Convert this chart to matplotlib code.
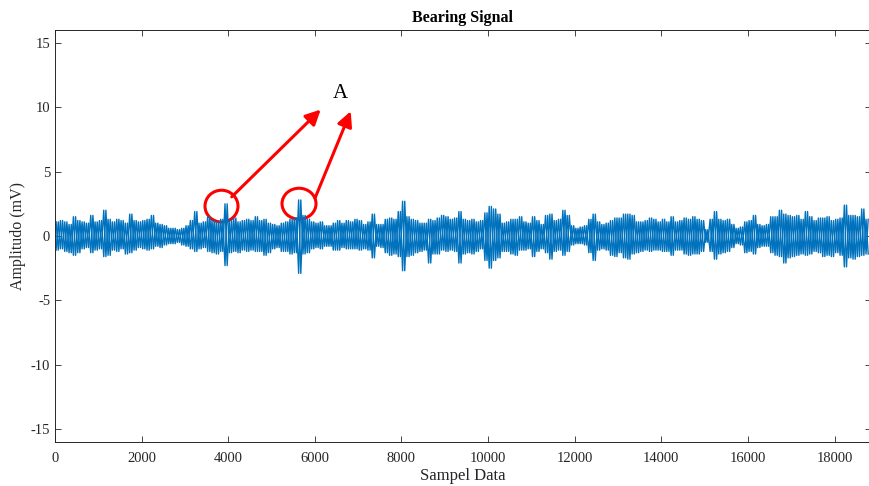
import matplotlib
matplotlib.use("Agg")
import matplotlib.pyplot as plt
import numpy as np
from matplotlib.patches import Ellipse

# ---- data: per-100-sample window peak (hi) and trough (lo) of the signal ----
window_size = 100
sig_hi = [
    1.1, 1.2, 1.1, 0.9, 1.5, 1.2, 1.1, 1.0, 1.6, 1.1,
    1.2, 2.0, 1.3, 1.1, 1.3, 1.2, 1.0, 1.7, 1.2, 1.1,
    1.2, 1.3, 1.6, 1.0, 0.9, 0.8, 0.6, 0.6, 0.5, 0.6,
    0.8, 1.2, 1.9, 1.0, 1.1, 1.5, 1.2, 1.1, 1.3, 2.5,
    1.2, 1.4, 1.1, 1.2, 1.3, 1.2, 1.5, 1.2, 1.3, 1.0,
    0.9, 0.8, 1.0, 1.1, 1.3, 1.4, 2.8, 1.6, 1.3, 1.1,
    1.0, 1.1, 0.8, 0.8, 1.0, 1.2, 1.0, 1.2, 1.1, 1.3,
    1.2, 0.9, 1.1, 1.7, 0.9, 0.9, 1.3, 1.4, 1.3, 1.9,
    2.7, 1.5, 1.3, 1.2, 1.0, 1.0, 1.3, 1.2, 1.4, 1.6,
    1.5, 1.3, 1.4, 1.9, 1.3, 1.2, 1.3, 1.1, 1.2, 1.8,
    2.3, 2.1, 1.7, 1.0, 1.1, 1.3, 1.3, 1.5, 1.1, 1.0,
    1.5, 1.2, 0.9, 1.6, 1.7, 1.2, 1.3, 2.0, 1.6, 0.8,
    0.6, 0.7, 0.8, 1.3, 1.7, 1.1, 0.9, 1.0, 1.2, 1.4,
    1.4, 1.7, 1.7, 1.6, 1.1, 1.1, 1.2, 1.4, 1.3, 1.1,
    1.3, 1.1, 1.5, 1.1, 1.2, 1.4, 1.3, 1.5, 1.3, 1.2,
    0.5, 1.3, 1.9, 1.3, 1.2, 1.3, 0.9, 0.6, 0.7, 1.1,
    1.2, 1.6, 0.9, 0.8, 0.9, 1.5, 1.5, 2.0, 1.7, 1.6,
    1.5, 1.6, 1.3, 1.9, 1.5, 1.2, 1.4, 1.4, 1.5, 1.2,
    1.3, 1.4, 2.4, 1.6, 1.6, 1.5, 2.1, 1.3,
]
sig_lo = [
    -1.1, -1.0, -1.2, -1.3, -1.5, -1.3, -1.0, -0.9, -1.3, -1.1,
    -1.0, -1.6, -1.5, -1.1, -1.2, -1.0, -1.4, -1.3, -1.1, -0.9,
    -1.0, -1.1, -1.0, -0.8, -0.9, -0.7, -0.6, -0.6, -0.5, -0.7,
    -0.8, -1.0, -1.2, -1.0, -0.9, -1.2, -1.3, -1.4, -1.2, -2.3,
    -1.3, -1.2, -1.3, -1.1, -1.2, -1.1, -1.2, -1.2, -1.5, -1.3,
    -1.0, -0.9, -1.2, -1.2, -1.4, -1.3, -2.9, -1.4, -1.3, -1.0,
    -0.9, -1.0, -0.8, -0.8, -1.1, -1.1, -0.9, -1.0, -1.0, -1.0,
    -1.1, -1.0, -1.1, -1.7, -0.8, -0.9, -1.3, -1.5, -1.4, -1.6,
    -2.7, -1.6, -1.5, -1.3, -1.2, -1.1, -2.1, -1.4, -1.4, -1.1,
    -1.2, -1.1, -1.2, -2.1, -1.4, -1.3, -1.4, -1.2, -1.0, -1.9,
    -2.5, -1.9, -1.7, -1.2, -1.2, -1.4, -1.5, -1.1, -1.1, -1.0,
    -1.6, -1.2, -1.0, -1.3, -1.8, -1.2, -1.1, -1.5, -1.2, -0.7,
    -0.6, -0.6, -0.7, -1.3, -1.9, -1.1, -1.0, -1.1, -1.5, -1.6,
    -1.3, -1.7, -1.8, -1.4, -1.3, -1.2, -1.1, -1.2, -1.1, -1.1,
    -1.2, -1.2, -1.5, -1.1, -1.1, -1.4, -1.5, -1.4, -1.4, -1.2,
    -0.5, -1.2, -1.8, -1.4, -1.3, -1.2, -0.9, -0.6, -0.7, -1.3,
    -1.2, -1.4, -0.9, -0.8, -0.8, -1.3, -1.5, -1.6, -2.1, -1.7,
    -1.6, -1.5, -1.4, -1.5, -1.4, -1.2, -1.3, -1.6, -1.5, -1.6,
    -1.3, -1.5, -2.4, -1.7, -1.8, -1.6, -1.5, -1.4,
]
x_ticks = [0, 2000, 4000, 6000, 8000, 10000, 12000, 14000, 16000, 18000]
y_ticks = [-15, -10, -5, 0, 5, 10, 15]

# ---- build two interleaved traces from window peaks/troughs ----
n = len(sig_hi)
xa, ya, xb, yb = [], [], [], []
for i in range(n):
    xa += [i * window_size + 25, i * window_size + 75]
    ya += [sig_hi[i], sig_lo[i]]
    xb += [i * window_size + 25, i * window_size + 75]
    yb += [sig_lo[i], sig_hi[i]]

plt.rcParams['font.family'] = ['Liberation Serif', 'DejaVu Serif']
plt.rcParams['axes.unicode_minus'] = False

W, H = 869, 486
fig = plt.figure(figsize=(W / 100, H / 100), dpi=100)
ax = fig.add_axes([55 / W, 1 - 442 / H, (871 - 55) / W, (442 - 30) / H])

blue = (0, 0.447, 0.741)
ax.plot(xa, ya, color=blue, lw=1.0)
ax.plot(xb, yb, color=blue, lw=1.0)

ax.set_xlim(0, 18840)
ax.set_ylim(-16, 16)
ax.set_xticks(x_ticks)
ax.set_yticks(y_ticks)
ax.tick_params(direction='in', top=True, right=True, length=4, width=0.6,
               colors='#262626', labelsize=10.5, labelcolor='#262626')
ax.tick_params(axis='x', pad=7)
for s in ax.spines.values():
    s.set_color('#262626')
    s.set_linewidth(0.7)

ax.set_title('Bearing Signal', fontsize=11.5, fontweight='bold', pad=6)
ax.set_xlabel('Sampel Data', fontsize=12, labelpad=2, color='#262626')
ax.set_ylabel('Amplitudo (mV)', fontsize=11.5, labelpad=3, color='#262626')

# ---- annotations ----
red = '#ff0000'
ax.add_patch(Ellipse((3844, 2.32), 762, 2.47, fill=False, ec=red, lw=2.2))
ax.add_patch(Ellipse((5634, 2.51), 785, 2.40, fill=False, ec=red, lw=2.2))
arrow_kw = dict(arrowstyle='-|>,head_length=0.9,head_width=0.45', color=red, lw=2.2,
                shrinkA=0, shrinkB=0)
ax.annotate('', xy=(6135, 9.82), xytext=(4080, 3.04), arrowprops=arrow_kw)
ax.annotate('', xy=(6828, 9.69), xytext=(6003, 2.94), arrowprops=arrow_kw)
ax.text(6581, 11.06, 'A', fontsize=15, ha='center', va='center', color='black')

fig.savefig('out.png', dpi=100)
